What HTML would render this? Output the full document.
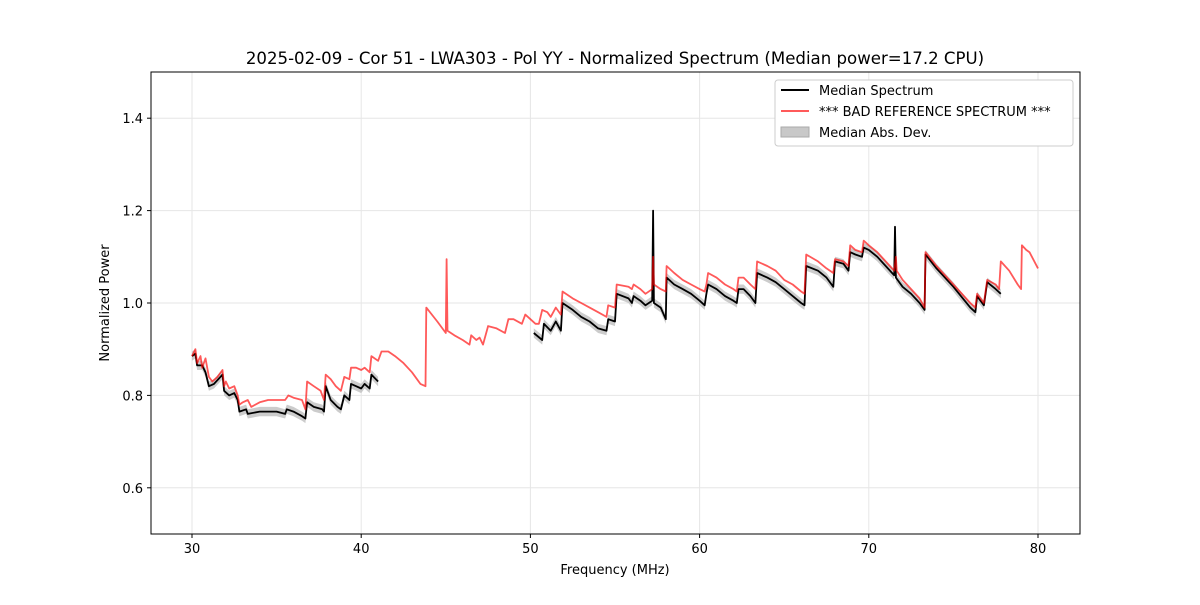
<!DOCTYPE html>
<html><head><meta charset="utf-8"><style>
body{margin:0;background:#fff;font-family:"Liberation Sans","DejaVu Sans",sans-serif}
svg text{font-family:"DejaVu Sans","Liberation Sans",sans-serif;fill:#000}
</style></head><body>
<svg id="chart" width="1200" height="600" xmlns="http://www.w3.org/2000/svg">
<rect width="1200" height="600" fill="#fff"/>
<text x="615" y="64" font-size="16.6" text-anchor="middle">2025-02-09 - Cor 51 - LWA303 - Pol YY - Normalized Spectrum (Median power=17.2 CPU)</text>
<g id="grid"></g><g id="band"></g><g id="lines"></g><g id="axes"></g>
<text x="615" y="574" font-size="13" text-anchor="middle">Frequency (MHz)</text>
<text transform="translate(109,303) rotate(-90)" font-size="13" text-anchor="middle">Normalized Power</text>
<g>
<rect x="775" y="80" width="298" height="66" fill="#fff" stroke="#ccc" rx="3"/>
<line x1="781" y1="90" x2="809" y2="90" stroke="#000" stroke-width="2"/>
<text x="819" y="95" font-size="13">Median Spectrum</text>
<line x1="781" y1="111" x2="809" y2="111" stroke="#ff5a5a" stroke-width="2"/>
<text x="819" y="116" font-size="13">*** BAD REFERENCE SPECTRUM ***</text>
<rect x="781" y="127" width="28" height="10" fill="#c8c8c8" stroke="#aaa"/>
<text x="819" y="137" font-size="13">Median Abs. Dev.</text>
</g>
</svg>
<script>
const xTicks=[30,40,50,60,70,80];
const yTicks=[0.6,0.8,1.0,1.2,1.4];
const refFreq=[30.0,30.2,30.3,30.5,30.6,30.8,31.0,31.2,31.5,31.8,31.9,32.0,32.2,32.5,32.7,32.8,33.0,33.3,33.5,34.0,34.5,35.0,35.5,35.7,36.0,36.5,36.7,36.8,37.2,37.6,37.8,37.9,38.2,38.5,38.8,39.0,39.3,39.4,39.7,40.0,40.2,40.5,40.6,41.0,41.2,41.6,42.0,42.5,43.0,43.5,43.8,43.85,44.5,45.0,45.05,45.1,45.5,46.0,46.4,46.5,46.8,47.0,47.2,47.5,48.0,48.5,48.7,49.0,49.5,49.7,50.0,50.3,50.5,50.7,51.0,51.2,51.5,51.8,51.9,52.5,53.0,53.5,54.0,54.5,54.6,55.0,55.1,55.8,56.0,56.1,56.5,56.8,57.2,57.25,57.3,57.7,58.0,58.05,58.5,59.0,59.5,60.0,60.3,60.4,60.5,61.0,61.5,62.0,62.2,62.3,62.6,63.0,63.3,63.4,64.0,64.5,65.0,65.5,66.0,66.2,66.3,67.0,67.5,67.9,68.0,68.5,68.8,68.9,69.2,69.6,69.7,70.0,70.5,71.0,71.5,71.6,71.65,72.0,72.5,73.0,73.3,73.35,74.0,75.0,76.0,76.3,76.4,76.8,77.0,77.5,77.7,77.8,78.3,78.8,79.0,79.05,79.3,79.5,80.0];
const refPower=[0.885,0.90,0.87,0.885,0.86,0.88,0.84,0.83,0.84,0.855,0.82,0.83,0.815,0.82,0.80,0.78,0.785,0.79,0.775,0.785,0.79,0.79,0.79,0.80,0.795,0.79,0.77,0.83,0.82,0.81,0.79,0.845,0.835,0.82,0.81,0.84,0.835,0.86,0.86,0.855,0.86,0.85,0.885,0.875,0.895,0.895,0.885,0.87,0.85,0.825,0.82,0.99,0.96,0.935,1.095,0.94,0.93,0.92,0.91,0.93,0.92,0.925,0.91,0.95,0.945,0.935,0.965,0.965,0.955,0.975,0.965,0.955,0.955,0.985,0.98,0.97,0.99,0.975,1.025,1.01,1.0,0.99,0.98,0.97,0.995,0.99,1.04,1.035,1.03,1.04,1.03,1.02,1.03,1.1,1.04,1.03,1.025,1.08,1.065,1.05,1.04,1.03,1.025,1.04,1.065,1.055,1.04,1.03,1.025,1.055,1.055,1.04,1.03,1.09,1.08,1.07,1.05,1.04,1.025,1.02,1.105,1.09,1.075,1.065,1.095,1.09,1.08,1.125,1.115,1.11,1.135,1.125,1.11,1.09,1.07,1.1,1.07,1.05,1.03,1.01,0.99,1.11,1.08,1.04,1.0,0.99,1.02,1.0,1.05,1.04,1.03,1.09,1.07,1.04,1.03,1.125,1.115,1.11,1.075];
const medFreq1=[30.0,30.2,30.3,30.6,30.8,31.0,31.3,31.8,31.9,32.2,32.5,32.7,32.8,33.2,33.3,34.0,34.5,35.0,35.5,35.6,36.0,36.5,36.7,36.8,37.2,37.7,37.8,37.9,38.2,38.6,38.8,39.0,39.3,39.4,39.7,40.0,40.2,40.5,40.6,41.0];
const medPower1=[0.885,0.89,0.865,0.865,0.85,0.82,0.825,0.845,0.81,0.80,0.805,0.79,0.765,0.77,0.76,0.765,0.765,0.765,0.76,0.77,0.765,0.755,0.75,0.785,0.775,0.77,0.765,0.82,0.79,0.775,0.77,0.80,0.79,0.825,0.82,0.815,0.825,0.815,0.845,0.83];
const medFreq2=[50.2,50.7,50.8,51.2,51.5,51.8,51.9,52.5,53.0,53.5,54.0,54.5,54.6,55.0,55.1,55.8,56.0,56.1,56.5,56.8,57.2,57.25,57.3,57.7,58.0,58.05,58.5,59.0,59.5,60.0,60.3,60.4,60.5,61.0,61.5,62.0,62.2,62.3,62.6,63.0,63.3,63.4,64.0,64.5,65.0,65.5,66.0,66.2,66.3,67.0,67.5,67.9,68.0,68.5,68.8,68.9,69.2,69.6,69.7,70.0,70.5,71.0,71.5,71.55,71.6,72.0,72.5,73.0,73.3,73.35,74.0,75.0,76.0,76.3,76.4,76.8,77.0,77.5,77.8];
const medPower2=[0.935,0.92,0.955,0.94,0.96,0.94,1.0,0.985,0.97,0.96,0.945,0.94,0.965,0.96,1.02,1.01,1.0,1.015,1.005,0.995,1.005,1.2,1.0,0.99,0.965,1.055,1.04,1.03,1.02,1.005,0.995,1.02,1.04,1.03,1.015,1.005,1.0,1.03,1.03,1.015,1.0,1.065,1.055,1.045,1.03,1.015,1.0,0.995,1.08,1.07,1.055,1.035,1.09,1.085,1.07,1.11,1.105,1.1,1.12,1.115,1.1,1.08,1.06,1.165,1.055,1.035,1.02,1.0,0.985,1.105,1.075,1.035,0.99,0.98,1.015,0.995,1.045,1.03,1.02];
const madHalfWidth=0.01;

const L=151,R=1080,T=72,B=534;
const X=f=>192+(f-30)*(1038-192)/50;
const Y=v=>B-(v-0.5)*(B-T)/1.0;
const NS="http://www.w3.org/2000/svg";
function mk(tag,attrs,parent){const e=document.createElementNS(NS,tag);for(const k in attrs)e.setAttribute(k,attrs[k]);parent.appendChild(e);return e;}
const grid=document.getElementById('grid'),axes=document.getElementById('axes'),band=document.getElementById('band'),lines=document.getElementById('lines');
xTicks.forEach(t=>{
 const g=mk('line',{x1:X(t),x2:X(t),y1:T,y2:B,stroke:'#e6e6e6'},grid);
 
 
 mk('line',{x1:X(t),x2:X(t),y1:B,y2:B+4,stroke:'#000'},axes);
 const tx=mk('text',{x:X(t),y:B+19,'font-size':13,'text-anchor':'middle'},axes);tx.textContent=t;
 
 
});
yTicks.forEach(t=>{
 const g=mk('line',{x1:L,x2:R,y1:Y(t),y2:Y(t),stroke:'#e6e6e6'},grid);
 
 
 mk('line',{x1:L-4,x2:L,y1:Y(t),y2:Y(t),stroke:'#000'},axes);
 const tx=mk('text',{x:L-8,y:Y(t)+5,'font-size':13,'text-anchor':'end'},axes);tx.textContent=t.toFixed(1);
 
 
});
const fr=mk('rect',{x:L,y:T,width:R-L,height:B-T,fill:'none',stroke:'#000'},axes);


function pts(fs,vs,off){return fs.map((f,i)=>X(f).toFixed(1)+','+Y(vs[i]+off).toFixed(1));}
[[medFreq1,medPower1],[medFreq2,medPower2]].forEach(([fs,vs])=>{
 const up=pts(fs,vs,madHalfWidth),lo=pts(fs,vs,-madHalfWidth).reverse();
 const p=mk('polygon',{points:up.concat(lo).join(' '),fill:'#bbbbbb','fill-opacity':0.75},band);
 
 
 const l=mk('polyline',{points:pts(fs,vs,0).join(' '),fill:'none',stroke:'#000','stroke-width':1.8,'stroke-linejoin':'round'},lines);
 
 
});
const rl=mk('polyline',{points:pts(refFreq,refPower,0).join(' '),fill:'none',stroke:'#ff0000','stroke-opacity':0.65,'stroke-width':1.8,'stroke-linejoin':'round'},lines);


</script>
</body></html>
